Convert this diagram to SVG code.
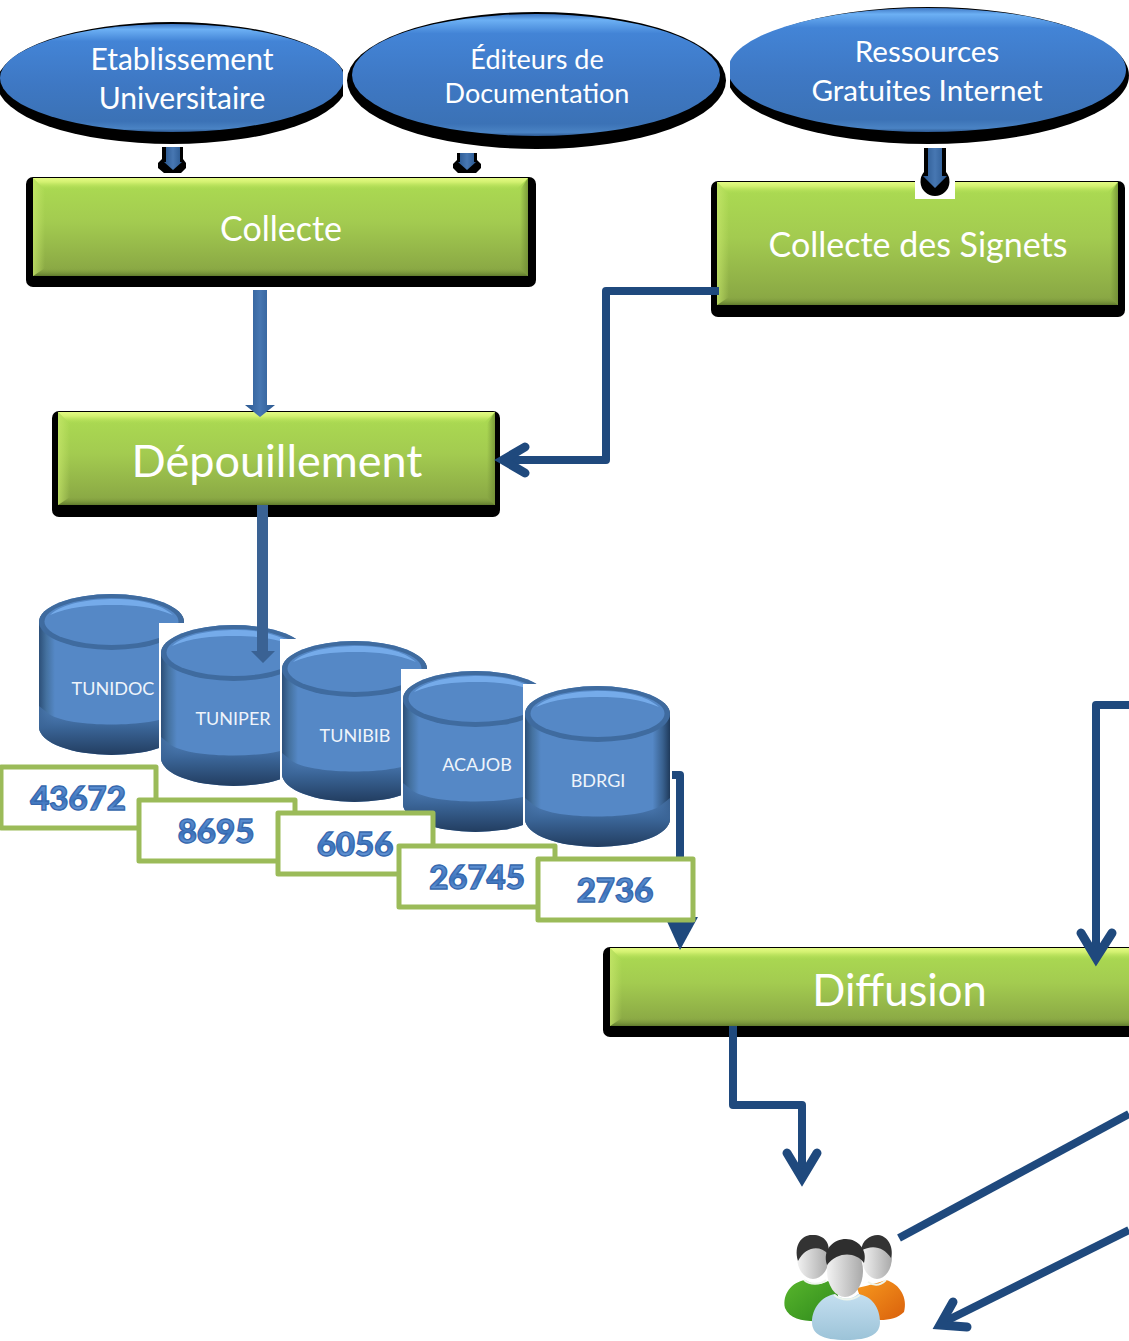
<svg xmlns="http://www.w3.org/2000/svg" xmlns:xlink="http://www.w3.org/1999/xlink" width="1129" height="1341" viewBox="0 0 1129 1341">
<style>
text{font-family:"Lato","Liberation Sans",sans-serif;fill:#fff;text-anchor:middle}
.blk{fill:#000}
.grn{fill:url(#gGreen)}
.bt{fill:url(#gTop)}
.bb{fill:url(#gBot)}
.bs{fill:url(#gLeft)}
.bd{fill:url(#gRight)}
.oval{fill:url(#gOval)}
.box{fill:#fff;stroke:#9bbb59;stroke-width:5;stroke-linejoin:round}
.num{font-weight:900;font-size:33px;fill:url(#gNum);stroke:#3567ad;stroke-width:1.3}
.cy{font-size:18px;fill:#eef4fb}
.line{fill:none;stroke:#1f497d;stroke-width:8;stroke-linejoin:round}
.head{fill:none;stroke:#1f497d;stroke-width:9;stroke-linecap:round;stroke-linejoin:miter}
.wht{fill:#fff}
.col{fill:none;stroke:#eef5ec;stroke-width:2}
</style>
<defs>
<linearGradient id="gGreen" x1="0" y1="0" x2="0" y2="1"><stop offset="0" stop-color="#acdc52"/><stop offset=".45" stop-color="#a3cb50"/><stop offset="1" stop-color="#87a443"/></linearGradient>
<linearGradient id="gTop" x1="0" y1="0" x2="0" y2="1"><stop offset="0" stop-color="#e4fb84"/><stop offset=".35" stop-color="#d2f070"/><stop offset="1" stop-color="#acdc52" stop-opacity="0"/></linearGradient>
<linearGradient id="gBot" x1="0" y1="0" x2="0" y2="1"><stop offset="0" stop-color="#87a443" stop-opacity="0"/><stop offset="1" stop-color="#5f7a2c"/></linearGradient>
<linearGradient id="gLeft" x1="0" y1="0" x2="1" y2="0"><stop offset="0" stop-color="#c8e86c" stop-opacity=".7"/><stop offset="1" stop-color="#c8e86c" stop-opacity="0"/></linearGradient>
<linearGradient id="gRight" x1="0" y1="0" x2="1" y2="0"><stop offset="0" stop-color="#6f8c34" stop-opacity="0"/><stop offset="1" stop-color="#6f8c34" stop-opacity=".8"/></linearGradient>
<linearGradient id="gOval" x1="0" y1="0" x2="0" y2="1"><stop offset="0" stop-color="#3f78c4"/><stop offset=".05" stop-color="#6cb0f4"/><stop offset=".16" stop-color="#4384d6"/><stop offset=".55" stop-color="#3e78c4"/><stop offset=".9" stop-color="#3b72b6"/><stop offset=".97" stop-color="#4a83c4"/><stop offset="1" stop-color="#2d5a94"/></linearGradient>
<linearGradient id="gNum" x1="0" y1="0" x2="0" y2="1"><stop offset="0" stop-color="#6f9fdc"/><stop offset=".6" stop-color="#3d74bd"/><stop offset="1" stop-color="#86b0e6"/></linearGradient>
<linearGradient id="gShaft" x1="0" y1="0" x2="1" y2="0"><stop offset="0" stop-color="#2a5890"/><stop offset=".5" stop-color="#4777b2"/><stop offset="1" stop-color="#2a5890"/></linearGradient>
<linearGradient id="gBody" x1="0" y1="0" x2="1" y2="0"><stop offset="0" stop-color="#2c4f78"/><stop offset=".05" stop-color="#44719f"/><stop offset=".11" stop-color="#5588c6"/><stop offset=".88" stop-color="#5588c6"/><stop offset=".95" stop-color="#39618f"/><stop offset="1" stop-color="#1f3a5b"/></linearGradient>
<linearGradient id="gBase" x1="0" y1="0" x2="0" y2="1"><stop offset="0" stop-color="#4a78b0" stop-opacity=".6"/><stop offset=".45" stop-color="#3a6496"/><stop offset="1" stop-color="#223d60"/></linearGradient>
<linearGradient id="gGr" x1="0" y1="0" x2="1" y2="1"><stop offset="0" stop-color="#58b52c"/><stop offset="1" stop-color="#2f8a1c"/></linearGradient>
<linearGradient id="gOr" x1="0" y1="0" x2="1" y2="1"><stop offset="0" stop-color="#f89a1e"/><stop offset="1" stop-color="#d9600c"/></linearGradient>
<linearGradient id="gLb" x1="0" y1="0" x2="0" y2="1"><stop offset="0" stop-color="#c4dff0"/><stop offset="1" stop-color="#9cc3d8"/></linearGradient>
<linearGradient id="gHd" x1="0" y1="0" x2="1" y2="0"><stop offset="0" stop-color="#f2f2f2"/><stop offset="1" stop-color="#a9a9a9"/></linearGradient>
<clipPath id="c1"><rect x="0" y="0" width="343" height="160"/></clipPath>
<clipPath id="c3"><rect x="730" y="0" width="399" height="160"/></clipPath>
<g id="cyl">
<path d="M0,28A72.5,28 0 0 1 145,28V133A72.5,28 0 0 1 0,133Z" fill="url(#gBody)"/>
<path d="M0,112L10,120C30,134 115,134 135,120L145,112V133A72.5,28 0 0 1 0,133Z" fill="url(#gBase)"/>
<ellipse cx="72.5" cy="28" rx="72.5" ry="28" fill="#3f6b9f"/>
<ellipse cx="72.5" cy="27.5" rx="67" ry="23.5" fill="#5588c6"/>
<path d="M11,21C24,9 50,5 76,5C100,5 122,10 134,21C114,13 96,11 74,11C50,11 30,13 11,21Z" fill="#7db4f2" opacity=".8"/>
</g>
</defs>

<g id="oval-etablissement" clip-path="url(#c1)">
<ellipse class="blk" cx="172" cy="83" rx="175" ry="61"/>
<ellipse class="oval" cx="172" cy="78" rx="172" ry="54"/>
<text x="182" y="70" font-size="30">Etablissement</text>
<text x="182" y="109" font-size="30">Universitaire</text>
</g>
<g id="oval-editeurs">
<ellipse class="blk" cx="536.5" cy="80.5" rx="189.5" ry="68.5"/>
<ellipse class="oval" cx="536" cy="75" rx="184" ry="61"/>
<text x="537" y="69" font-size="27">Éditeurs de</text>
<text x="537" y="103" font-size="27">Documentation</text>
</g>
<g id="oval-ressources" clip-path="url(#c3)">
<ellipse class="blk" cx="928" cy="75.5" rx="201" ry="68.5"/>
<ellipse class="oval" cx="927" cy="70" rx="199" ry="62"/>
<text x="927" y="62" font-size="29.6">Ressources</text>
<text x="927" y="101" font-size="29.6">Gratuites Internet</text>
</g>

<g id="node-collecte">
<rect class="blk" x="26" y="177" width="510" height="110" rx="7"/>
<rect class="grn" x="33" y="178" width="495" height="98"/>
<path class="bt" d="M33,178H528L516,190H45Z"/>
<path class="bb" d="M45,268H520L528,276H33Z"/>
<path class="bs" d="M33,178L45,190V268L33,276Z"/>
<path class="bd" d="M528,178L520,190V268L528,276Z"/>
<text x="281" y="241" font-size="34">Collecte</text>
</g>
<g id="node-signets">
<rect class="blk" x="711" y="181" width="414" height="136" rx="7"/>
<rect class="grn" x="717" y="182" width="401" height="123"/>
<path class="bt" d="M717,182H1118L1106,194H729Z"/>
<path class="bb" d="M729,297H1110L1118,305H717Z"/>
<path class="bs" d="M717,182L729,194V297L717,305Z"/>
<path class="bd" d="M1118,182L1110,194V297L1118,305Z"/>
<rect class="wht" x="915" y="181" width="40" height="18"/>
<text x="918" y="257" font-size="34">Collecte des Signets</text>
</g>
<g id="node-depouillement">
<rect class="blk" x="52" y="411" width="448" height="106" rx="7"/>
<rect class="grn" x="58" y="412" width="437" height="93"/>
<path class="bt" d="M58,412H495L483,424H70Z"/>
<path class="bb" d="M70,497H487L495,505H58Z"/>
<path class="bs" d="M58,412L70,424V497L58,505Z"/>
<path class="bd" d="M495,412L487,424V497L495,505Z"/>
<text x="277" y="477" font-size="45">Dépouillement</text>
</g>
<g id="node-diffusion">
<rect class="blk" x="603" y="947" width="540" height="90" rx="7"/>
<rect class="grn" x="610" y="948" width="530" height="78"/>
<path class="bt" d="M610,948H1129V960H622Z"/>
<path class="bb" d="M622,1018H1129V1026H610Z"/>
<path class="bs" d="M610,948L622,960V1018L610,1026Z"/>
<text x="899.5" y="1006" font-size="43.5">Diffusion</text>
</g>

<g id="arrows-top">
<path class="blk" d="M162,147H183V159L186,163V168L181,173H164L158,168V163L162,159Z"/>
<path d="M166,147H180V162H182L173,170L164,162H166Z" fill="url(#gShaft)"/>
<path class="blk" d="M457,153H477V160L481,164V168L476,173H458L453,168V164L457,160Z"/>
<path d="M460,153H474V162H476L467,170L458,162H460Z" fill="url(#gShaft)"/>
<path class="blk" d="M924,148H946V172A14.5,14.5 0 1 1 924,172Z"/>
<path d="M928,148H942V176H947L935,188L923,176H928Z" fill="url(#gShaft)"/>
</g>
<g id="arrow-collecte"><path d="M253,290H267V405H275L260,417L245,405H253Z" fill="url(#gShaft)"/></g>

<g id="connectors">
<path class="line" d="M719,291H606V460H506"/>
<path class="head" d="M525,447L503,460L525,473"/>
<path class="line" d="M672,775H680V940"/>
<path d="M665,917L680,950L698,917Z" fill="#1f497d"/>
<path class="line" d="M1129,705H1096V955"/>
<path class="head" d="M1081,933L1096,958L1112,933"/>
<path class="line" d="M733,1026V1105H802V1175"/>
<path class="head" d="M787,1153L802,1178L817,1153"/>
<path class="line" d="M899,1238L1129,1114"/>
<path class="line" d="M1129,1230L942,1323"/>
<path class="head" d="M953,1302L940,1325L967,1327"/>
</g>

<g id="db-tunidoc"><use xlink:href="#cyl" href="#cyl" transform="translate(39,594)"/><text class="cy" x="113" y="695">TUNIDOC</text></g>
<g id="db-tuniper"><rect class="wht" x="159" y="623" width="147" height="164"/><use xlink:href="#cyl" href="#cyl" transform="translate(161,625)"/><text class="cy" x="233" y="725">TUNIPER</text></g>
<g id="db-tunibib"><rect class="wht" x="280" y="639" width="147" height="164"/><use xlink:href="#cyl" href="#cyl" transform="translate(282,641)"/><text class="cy" x="355" y="742">TUNIBIB</text></g>
<g id="db-acajob"><rect class="wht" x="401" y="669" width="147" height="164"/><use xlink:href="#cyl" href="#cyl" transform="translate(403,671)"/><text class="cy" x="477" y="771">ACAJOB</text></g>
<g id="db-bdrgi"><rect class="wht" x="523" y="684" width="147" height="164"/><use xlink:href="#cyl" href="#cyl" transform="translate(525,686)"/><text class="cy" x="598" y="787">BDRGI</text></g>
<g id="arrow-depouillement"><path d="M257,505H268V651H275L263,663L251,651H257Z" fill="#3a6294"/></g>

<g id="count-43672"><rect class="box" x="1" y="767" width="155" height="61"/><text class="num" x="78" y="810">43672</text></g>
<g id="count-8695"><rect class="box" x="139" y="800" width="156" height="61"/><text class="num" x="216" y="843">8695</text></g>
<g id="count-6056"><rect class="box" x="278" y="813" width="155" height="61"/><text class="num" x="355" y="856">6056</text></g>
<g id="count-26745"><rect class="box" x="399" y="846" width="156" height="61"/><text class="num" x="477" y="889">26745</text></g>
<g id="count-2736"><rect class="box" x="538" y="859" width="155" height="61"/><text class="num" x="615" y="902">2736</text></g>

<g id="node-users">
<path d="M785,1308C782,1294 792,1282 805,1280C814,1286 824,1284 828,1281C836,1286 838,1290 838,1296L822,1321C806,1322 790,1320 785,1308Z" fill="url(#gGr)"/>
<path d="M857,1288C866,1286 874,1284 886,1280C900,1284 908,1298 904,1312C898,1318 890,1320 880,1320L866,1314Z" fill="url(#gOr)"/>
<path class="col" d="M804,1280C810,1285 820,1285 826,1280"/>
<path class="col" d="M868,1282C874,1286 880,1286 886,1280"/>
<ellipse cx="813" cy="1257" rx="16" ry="22" fill="url(#gHd)"/>
<ellipse cx="877" cy="1257" rx="15" ry="22" fill="url(#gHd)"/>
<path d="M798,1261C793,1244 803,1234 813,1235C824,1235 831,1243 828,1254C820,1245 806,1246 798,1261Z" fill="#333"/>
<path d="M861,1251C862,1240 870,1235 878,1235C888,1236 894,1247 891,1258C884,1247 872,1244 861,1251Z" fill="#333"/>
<path d="M812,1322C812,1308 822,1296 835,1294C842,1300 852,1300 858,1294C872,1296 880,1308 880,1322C880,1334 870,1340 846,1340C822,1340 812,1334 812,1322Z" fill="url(#gLb)"/>
<path class="col" d="M834,1295C842,1301 852,1301 860,1295"/>
<ellipse cx="845" cy="1271" rx="18" ry="26" fill="url(#gHd)"/>
<path d="M827,1265C822,1249 834,1239 846,1239C858,1239 868,1250 864,1263C856,1252 838,1251 827,1265Z" fill="#2e2e2e"/>
</g>
</svg>
